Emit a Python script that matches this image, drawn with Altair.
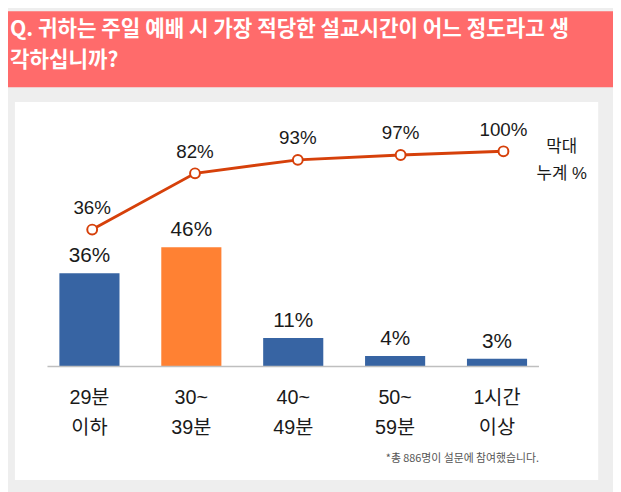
import altair as alt
import pandas as pd

# ---- data ----
categories = ["29분\n이하", "30~\n39분", "40~\n49분", "50~\n59분", "1시간\n이상"]
bar_values = [36, 46, 11, 4, 3]
cumulative = [36, 82, 93, 97, 100]
highlight = ["no", "yes", "no", "no", "no"]
title_lines = ["Q. 귀하는 주일 예배 시 가장 적당한 설교시간이 어느 정도라고 생", "각하십니까?"]
legend_text = "막대\n누계 %"
footnote = "*총 886명이 설문에 참여했습니다."

df = pd.DataFrame({
    "cat": categories,
    "value": bar_values,
    "cum": cumulative,
    "hl": highlight,
})
df["value_label"] = df["value"].astype(str) + "%"
df["cum_label"] = df["cum"].astype(str) + "%"
one = pd.DataFrame({"a": [0]})

W, H = 613, 484
FONT = "Liberation Sans, Noto Sans CJK KR, sans-serif"
KFONT = "Noto Sans CJK KR, sans-serif"
BLUE = "#3764A3"
ORANGE = "#FF8133"
LINE = "#D6400A"
TXT = "#1a1a1a"

xbar = alt.X("cat:N", sort=None, axis=None,
             scale=alt.Scale(domain=categories, range=[30.9, 547.1],
                             paddingInner=0.41, paddingOuter=0.205))
ybar = alt.Y("value:Q", axis=None,
             scale=alt.Scale(domain=[0, 100], range=[360, 97.6]))
xline = alt.X("cat:N", sort=None, axis=None,
              scale=alt.Scale(type="point", domain=categories, range=[85.3, 502],
                              padding=0))
yline = alt.Y("cum:Q", axis=None,
              scale=alt.Scale(domain=[0, 100], range=[265.9, 142]))

header = alt.Chart(one).mark_rect(color="#FF6B6B").encode(
    x=alt.value(0), x2=alt.value(W), y=alt.value(0), y2=alt.value(77))
panel = alt.Chart(one).mark_rect(color="#FFFFFF").encode(
    x=alt.value(7), x2=alt.value(598), y=alt.value(92), y2=alt.value(475))
title = alt.Chart(one).mark_text(
    align="left", baseline="alphabetic", font=KFONT, fontSize=21.5,
    fontWeight="bold", color="#FFFFFF", lineBreak="\n", lineHeight=31.5
).encode(x=alt.value(2), y=alt.value(25.2), text=alt.value("\n".join(title_lines)))

bars = alt.Chart(df).mark_bar().encode(
    x=xbar, y=ybar,
    color=alt.Color("hl:N", legend=None,
                    scale=alt.Scale(domain=["no", "yes"], range=[BLUE, ORANGE])))
bar_labels = alt.Chart(df).mark_text(
    baseline="alphabetic", dy=-11, font=FONT, fontSize=21, color=TXT
).encode(x=xbar, y=ybar, text="value_label:N")

baseline_rule = alt.Chart(one).mark_rule(color="#BFBFBF", strokeWidth=1.5).encode(
    x=alt.value(40), x2=alt.value(538), y=alt.value(360))

line = alt.Chart(df).mark_line(color=LINE, strokeWidth=3).encode(x=xline, y=yline)
points = alt.Chart(df).mark_point(
    filled=True, fill="#FFFFFF", stroke=LINE, strokeWidth=2, size=100, opacity=1
).encode(x=xline, y=yline)
line_labels = alt.Chart(df).mark_text(
    baseline="alphabetic", dy=-16, font=FONT, fontSize=19, color=TXT
).encode(x=xline, y=yline, text="cum_label:N")

x_labels = alt.Chart(df).mark_text(
    baseline="alphabetic", font=FONT, fontSize=20, color=TXT,
    lineBreak="\n", lineHeight=30
).encode(x=xbar, y=alt.value(398), text="cat:N")

legend = alt.Chart(one).mark_text(
    align="center", baseline="alphabetic", font=FONT, fontSize=17, color=TXT,
    lineBreak="\n", lineHeight=27
).encode(x=alt.value(561), y=alt.value(143), text=alt.value(legend_text))

foot = alt.Chart(one).mark_text(
    align="right", baseline="alphabetic", font=KFONT, fontSize=11, color="#555555"
).encode(x=alt.value(538), y=alt.value(457), text=alt.value(footnote))

chart = alt.layer(
    header, panel, title, bars, bar_labels, baseline_rule,
    line, points, line_labels, x_labels, legend, foot
).resolve_scale(x="independent", y="independent", color="independent").properties(
    width=W, height=H,
    autosize=alt.AutoSizeParams(type="none"),
    padding=0,
    background="#EEEEEE",
).configure_view(stroke=None)

chart.save("out.html", embed_options={"renderer": "svg", "actions": False})
